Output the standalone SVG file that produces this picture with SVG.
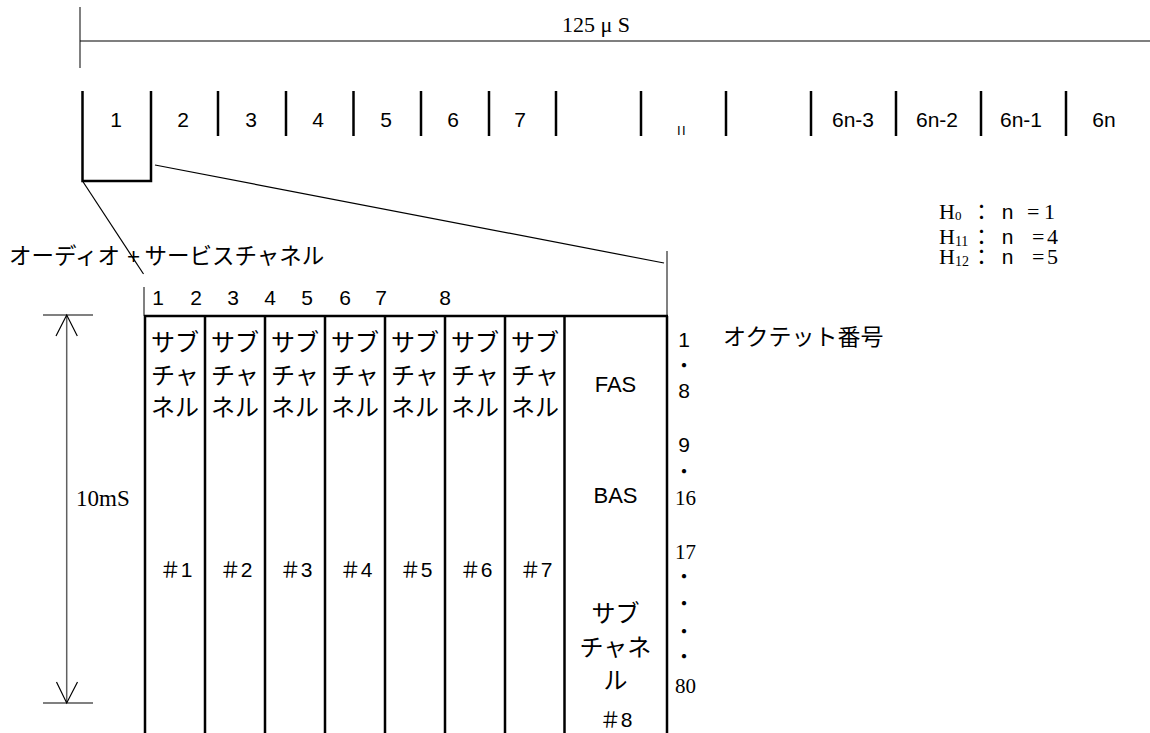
<svg xmlns="http://www.w3.org/2000/svg" width="1150" height="733" viewBox="0 0 1150 733">
<style>
.bar{stroke:#000;stroke-width:2.5;fill:none}
.thin{stroke:#000;stroke-width:1.2;fill:none}
.gray{stroke:#808080;stroke-width:2;fill:none}
.dim{stroke:#606060;stroke-width:1.5;fill:none}
.sans{font-family:"Liberation Sans","Noto Sans CJK JP",sans-serif;fill:#000}
.jp{font-family:"Noto Sans CJK JP",sans-serif;fill:#000}
.serif{font-family:"Liberation Serif","Noto Serif CJK JP",serif;fill:#000}
.mid{text-anchor:middle}
</style>
<rect width="1150" height="733" fill="#fff"/>

<g id="frame-period">
  <line class="gray" x1="80" y1="7" x2="80" y2="68"/>
  <line class="thin" x1="80" y1="41" x2="1150" y2="41"/>
  <text class="serif" x="562" y="32" font-size="22">125 μ S</text>
</g>

<g id="timeslots">
  <path class="bar" d="M82.5,91 V181 H151 V91"/>
  <line class="bar" x1="218" y1="91" x2="218" y2="136"/>
  <line class="bar" x1="286" y1="91" x2="286" y2="136"/>
  <line class="bar" x1="353.5" y1="91" x2="353.5" y2="136"/>
  <line class="bar" x1="421" y1="91" x2="421" y2="136"/>
  <line class="bar" x1="489" y1="91" x2="489" y2="136"/>
  <line class="bar" x1="556" y1="91" x2="556" y2="136"/>
  <line class="bar" x1="641" y1="91" x2="641" y2="136"/>
  <line class="bar" x1="726" y1="91" x2="726" y2="136"/>
  <line class="bar" x1="811" y1="91" x2="811" y2="136"/>
  <line class="bar" x1="896" y1="91" x2="896" y2="136"/>
  <line class="bar" x1="981" y1="91" x2="981" y2="136"/>
  <line class="bar" x1="1066" y1="91" x2="1066" y2="136"/>
  <g class="sans mid" font-size="21">
    <text x="116" y="127">1</text>
    <text x="183" y="127">2</text>
    <text x="251" y="127">3</text>
    <text x="318" y="127">4</text>
    <text x="386" y="127">5</text>
    <text x="453" y="127">6</text>
    <text x="520" y="127">7</text>
    <text x="682" y="135" font-size="13" letter-spacing="1.5">II</text>
    <text x="853" y="127">6n-3</text>
    <text x="937" y="127">6n-2</text>
    <text x="1021" y="127">6n-1</text>
    <text x="1104" y="127">6n</text>
  </g>
</g>

<g id="h-rates">
  <text class="serif" x="939" y="219" font-size="22">H<tspan font-size="13" dy="1">0</tspan></text>
  <text class="serif" x="939" y="244" font-size="22">H<tspan font-size="14" dy="2">11</tspan></text>
  <text class="serif" x="939" y="264" font-size="22">H<tspan font-size="14" dy="2">12</tspan></text>
  <g class="jp mid" font-size="21">
    <text x="981.5" y="219">：</text>
    <text x="981.5" y="244">：</text>
    <text x="981.5" y="264">：</text>
  </g>
  <g class="sans mid" font-size="21">
    <text x="1007.5" y="219">n</text>
    <text x="1007.5" y="244">n</text>
    <text x="1007.5" y="264">n</text>
  </g>
  <text class="serif" y="219" font-size="22"><tspan x="1027">=</tspan><tspan x="1044">1</tspan></text>
  <text class="serif" y="244" font-size="22"><tspan x="1032">=</tspan><tspan x="1047">4</tspan></text>
  <text class="serif" y="264" font-size="22"><tspan x="1032">=</tspan><tspan x="1047">5</tspan></text>
</g>

<g id="connectors">
  <line class="thin" x1="82.5" y1="181" x2="143.5" y2="274"/>
  <line class="thin" x1="155" y1="165" x2="664" y2="263"/>
</g>

<g id="title">
  <text class="jp" y="264" font-size="22.5"><tspan x="9">オーディオ</tspan><tspan class="sans" x="127">+</tspan><tspan x="144.5">サービスチャネル</tspan></text>
</g>

<g id="octet-header">
  <line class="gray" x1="144" y1="287" x2="144" y2="316"/>
  <line class="gray" x1="667" y1="251" x2="667" y2="316"/>
  <g class="sans mid" font-size="21">
    <text x="158" y="305">1</text>
    <text x="196" y="305">2</text>
    <text x="233" y="305">3</text>
    <text x="270" y="305">4</text>
    <text x="307" y="305">5</text>
    <text x="345" y="305">6</text>
    <text x="381" y="305">7</text>
    <text x="445" y="305">8</text>
  </g>
</g>

<g id="table">
  <line class="bar" x1="144" y1="316" x2="668" y2="316"/>
  <line class="bar" x1="145" y1="316" x2="145" y2="733"/>
  <line class="bar" x1="205" y1="316" x2="205" y2="733"/>
  <line class="bar" x1="265" y1="316" x2="265" y2="733"/>
  <line class="bar" x1="325" y1="316" x2="325" y2="733"/>
  <line class="bar" x1="385" y1="316" x2="385" y2="733"/>
  <line class="bar" x1="445" y1="316" x2="445" y2="733"/>
  <line class="bar" x1="505" y1="316" x2="505" y2="733"/>
  <line class="bar" x1="564.5" y1="316" x2="564.5" y2="733"/>
  <line class="bar" x1="667" y1="316" x2="667" y2="733"/>
</g>

<g id="subchannels-1-7" class="jp mid" font-size="24">
  <text x="175" y="351">サブ</text><text x="175" y="384">チャ</text><text x="175" y="416">ネル</text>
  <text x="235" y="351">サブ</text><text x="235" y="384">チャ</text><text x="235" y="416">ネル</text>
  <text x="295" y="351">サブ</text><text x="295" y="384">チャ</text><text x="295" y="416">ネル</text>
  <text x="355" y="351">サブ</text><text x="355" y="384">チャ</text><text x="355" y="416">ネル</text>
  <text x="415" y="351">サブ</text><text x="415" y="384">チャ</text><text x="415" y="416">ネル</text>
  <text x="475" y="351">サブ</text><text x="475" y="384">チャ</text><text x="475" y="416">ネル</text>
  <text x="535" y="351">サブ</text><text x="535" y="384">チャ</text><text x="535" y="416">ネル</text>
</g>
<g id="subchannel-numbers" class="sans mid" font-size="21">
  <text x="176" y="577">＃1</text>
  <text x="236" y="577">＃2</text>
  <text x="296" y="577">＃3</text>
  <text x="356" y="577">＃4</text>
  <text x="416" y="577">＃5</text>
  <text x="476" y="577">＃6</text>
  <text x="536" y="577">＃7</text>
</g>

<g id="column-8">
  <g class="sans mid" font-size="22">
    <text x="615.5" y="392">FAS</text>
    <text x="615.5" y="503">BAS</text>
  </g>
  <g class="jp mid" font-size="24">
    <text x="615.5" y="622">サブ</text>
    <text x="615.5" y="656">チャネ</text>
    <text x="615.5" y="689">ル</text>
  </g>
  <text class="sans mid" x="616" y="727" font-size="21">＃8</text>
</g>

<g id="octet-numbers">
  <g class="sans mid" font-size="21">
    <text x="684" y="347">1</text>
    <text x="684" y="398">8</text>
    <text x="684" y="452">9</text>
  </g>
  <g class="jp mid" font-size="20">
    <text x="684" y="372.6">・</text>
    <text x="684" y="479.3">・</text>
    <text x="684" y="584.3">・</text>
    <text x="684" y="610.6">・</text>
    <text x="684" y="639.3">・</text>
    <text x="684" y="664.3">・</text>
  </g>
  <g class="serif" font-size="21">
    <text x="675" y="505">16</text>
    <text x="675" y="559">17</text>
    <text x="675" y="693">80</text>
  </g>
  <text class="jp" x="723" y="345" font-size="23">オクテット番号</text>
</g>

<g id="duration-10ms">
  <line class="gray" x1="43" y1="315" x2="93" y2="315"/>
  <line class="gray" x1="43" y1="703" x2="93" y2="703"/>
  <line class="dim" x1="66.7" y1="315" x2="66.7" y2="703"/>
  <path class="thin" d="M56,336 L66.7,315 L77.3,336"/>
  <path class="thin" d="M56.5,682 L66.7,703 L77.5,682"/>
  <text class="serif" x="76" y="506" font-size="23">10mS</text>
</g>
</svg>
